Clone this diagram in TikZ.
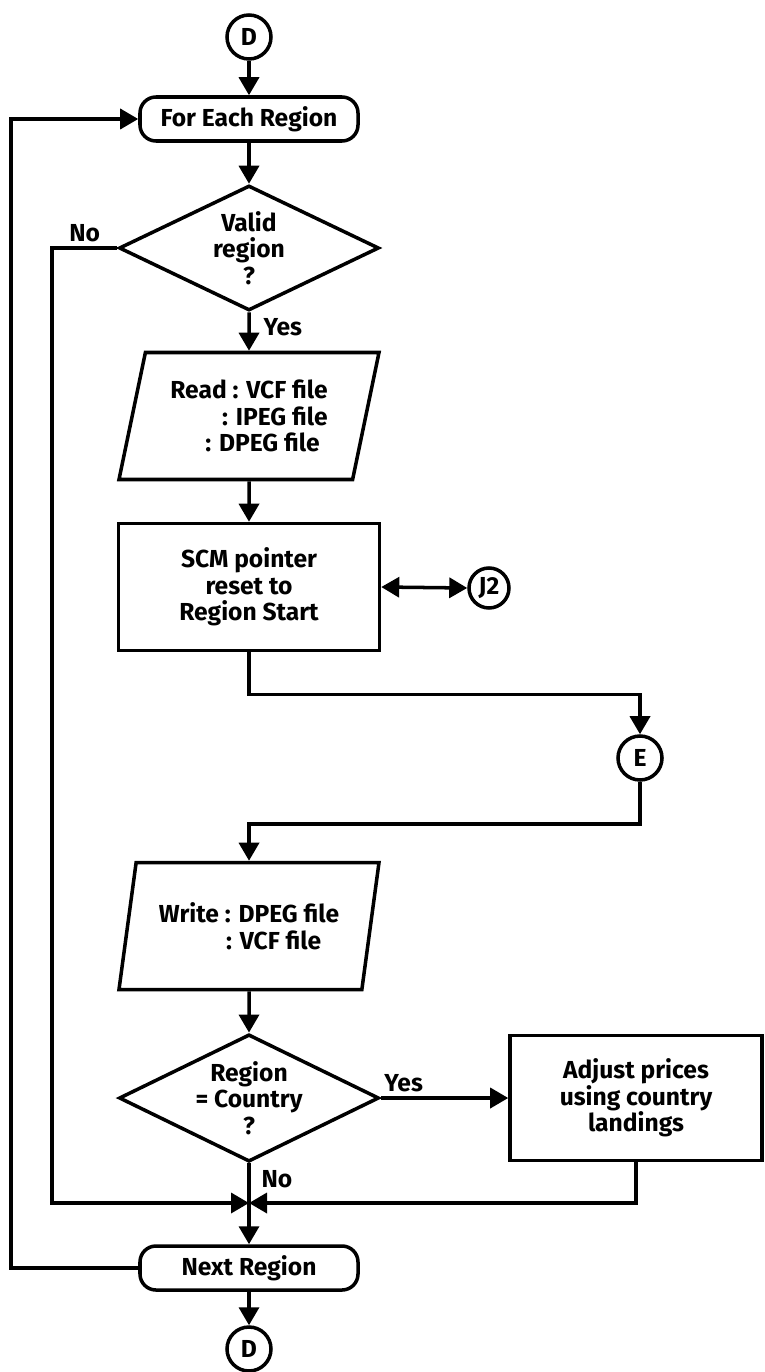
\documentclass[tikz,border=0pt]{standalone}
\usepackage{fontspec}
\setmainfont{Fira Sans}
\usetikzlibrary{arrows.meta,shapes.geometric}
\tikzset{
  flow/.style={draw, line width=2.5pt, font=\bfseries\fontsize{17.5}{19}\selectfont, align=center, inner sep=0pt},
  terminal/.style={flow, rectangle, rounded corners=4mm, minimum width=54.5mm, minimum height=11mm},
  process/.style={flow, rectangle, minimum width=65.25mm, minimum height=31.75mm},
  decision/.style={flow, diamond, aspect=2, minimum width=65mm, minimum height=31.25mm},
  inout/.style={flow, trapezium, trapezium left angle=70, trapezium right angle=110,
    trapezium stretches body, minimum width=65mm, minimum height=31.75mm},
  connector/.style={flow, circle, minimum size=11mm},
  link/.style={line width=2.5pt, ->},
  tag/.style={font=\bfseries\fontsize{17.5}{19}\selectfont, inner sep=2pt}
}
\begin{document}
\begin{tikzpicture}[x=0.25mm,y=-0.25mm,>={Triangle[length=4.5mm,width=5mm]}]
  \useasboundingbox (0,0) rectangle (764,1372);
  % symbols
  \node[connector] (dtop) at (249,37) {D};
  \node[terminal] (each) at (249,119) {For Each Region};
  \node[decision] (valid) at (249,248) {Valid\\region\\?};
  \node[inout, align=right] (read) at (249,416) {Read : VCF file\\: IPEG file\\: DPEG file\hspace*{2mm}};
  \node[process] (scm) at (249,587) {SCM pointer\\reset to\\Region Start};
  \node[connector, minimum size=10mm] (jtwo) at (489,588) {J2};
  \node[connector] (econ) at (640,758) {E};
  \node[inout, align=right] (write) at (249,926) {Write : DPEG file\\: VCF file\hspace*{4.5mm}};
  \node[decision] (country) at (249,1098) {Region\\= Country\\?};
  \node[process, minimum width=63mm, minimum height=31.25mm] (adjust) at (636,1098) {Adjust prices\\using country\\landings};
  \node[terminal] (next) at (249,1268) {Next Region};
  \node[connector] (dbot) at (249,1349) {D};
  \coordinate (join) at (249,1203);
  % flow lines
  \draw[link] (dtop) -- (each);
  \draw[link] (each) -- (valid);
  \draw[link] (valid) -- node[tag, pos=0.4, anchor=west, xshift=2.5mm] {Yes} (read);
  \draw[link] (valid.west) -- node[tag, above, inner sep=3pt] {No} ++(-65,0) |- (join);
  \draw[link] (read) -- (scm);
  \draw[link,<->] (scm.east) -- (jtwo.west);
  \draw[link] (scm.south) -- ++(0,42) -| (econ.north);
  \draw[link] (econ.south) -- ++(0,42) -| (write.north);
  \draw[link] (write) -- (country);
  \draw[link] (country.east) -- node[tag, pos=0.18, above, inner sep=3pt] {Yes} (adjust.west);
  \draw[link] (country.south) -- node[tag, pos=0.2, anchor=west, xshift=2mm] {No} (next.north);
  \draw[link] (adjust.south) |- (join);
  \draw[link] (next.west) -- ++(-127,0) |- (each.west);
  \draw[link] (next) -- (dbot);
\end{tikzpicture}
\end{document}
